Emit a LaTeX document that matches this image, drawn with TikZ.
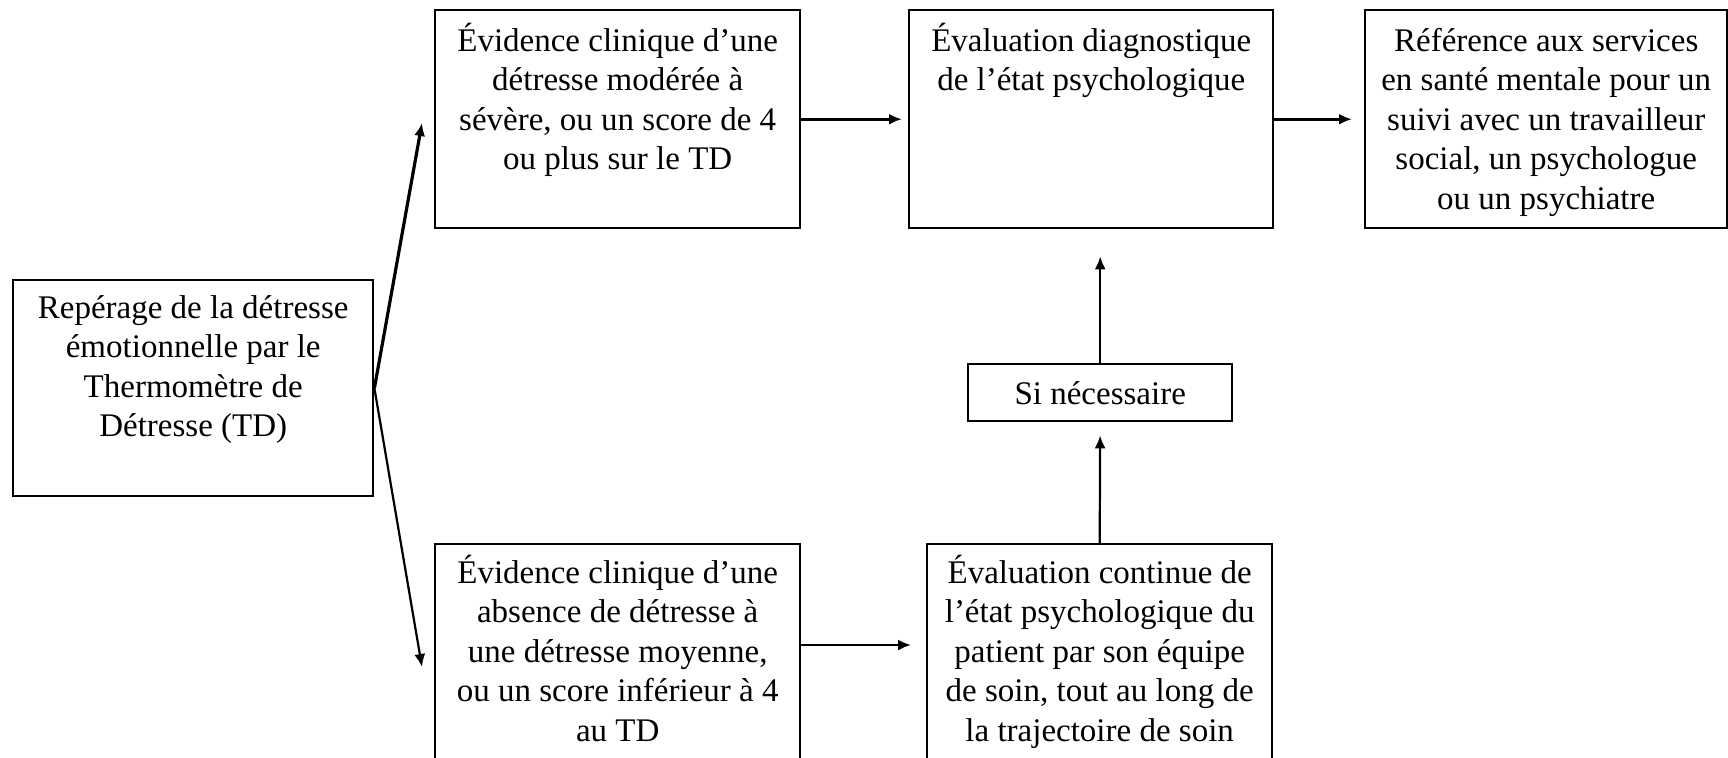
\documentclass[tikz,border=0pt]{standalone}
\usepackage{fontspec}
\setmainfont{Liberation Serif}
\usetikzlibrary{arrows.meta}
\newcommand{\bxt}[4]{\parbox[c][#2][t]{#1}{\centering\rule{0pt}{#3}#4}}
\begin{document}
\begin{tikzpicture}[x=0.5pt,y=-0.5pt,
  box/.style={draw,line width=1.2pt,inner sep=0pt,anchor=north west,font=\fontsize{16.5}{19.75}\selectfont},
  arr/.style={line width=1.1pt,-{Latex[length=6.5pt,width=5.5pt]}},
  arrb/.style={line width=1.6pt,-{Latex[length=6.5pt,width=5.5pt]}}]
\clip (0,0) rectangle (1728,757);
\fill[white] (0,0) rectangle (1728,757);
\node[box] (A) at (12,279) {\bxt{180pt}{108pt}{19pt}{Repérage de la détresse\\émotionnelle par le\\Thermomètre de\\Détresse (TD)}};
\node[box] (B) at (434,9) {\bxt{182.5pt}{109pt}{20.5pt}{Évidence clinique d’une\\détresse modérée à\\sévère, ou un score de 4\\ou plus sur le TD}};
\node[box] (C) at (908,9) {\bxt{182pt}{109pt}{20.5pt}{Évaluation diagnostique\\de l’état psychologique}};
\node[box] (D) at (1364,9) {\bxt{181pt}{109pt}{20.5pt}{Référence aux services\\en santé mentale pour un\\suivi avec un travailleur\\social, un psychologue\\ou un psychiatre}};
\node[box] (E) at (434,543) {\bxt{182.5pt}{120pt}{19.5pt}{Évidence clinique d’une\\absence de détresse à\\une détresse moyenne,\\ou un score inférieur à 4\\au TD}};
\node[box] (F) at (926,543) {\bxt{172.5pt}{120pt}{19.5pt}{Évaluation continue de\\l’état psychologique du\\patient par son équipe\\de soin, tout au long de\\la trajectoire de soin}};
\node[box] (S) at (967,363) {\bxt{132pt}{28.5pt}{20pt}{Si nécessaire}};
\coordinate (t1) at (422,123);
\coordinate (t2) at (422,667);
\draw[arrb] (A.east) -- (t1);
\draw[arr] (A.east) -- (t2);
\draw[arrb, shorten >=3pt] (B.east) -- (C.west);
\draw[arrb, shorten >=6pt] (C.east) -- (D.west);
\draw[arr, shorten >=7.5pt] ([yshift=-51pt]E.north east) -- ([yshift=-51pt]F.north west);
\draw[arr, shorten >=6.5pt] (F.north) -- (S.south);
\draw[arr, shorten >=13.5pt] (S.north) -- (S.north |- C.south);
\end{tikzpicture}
\end{document}
